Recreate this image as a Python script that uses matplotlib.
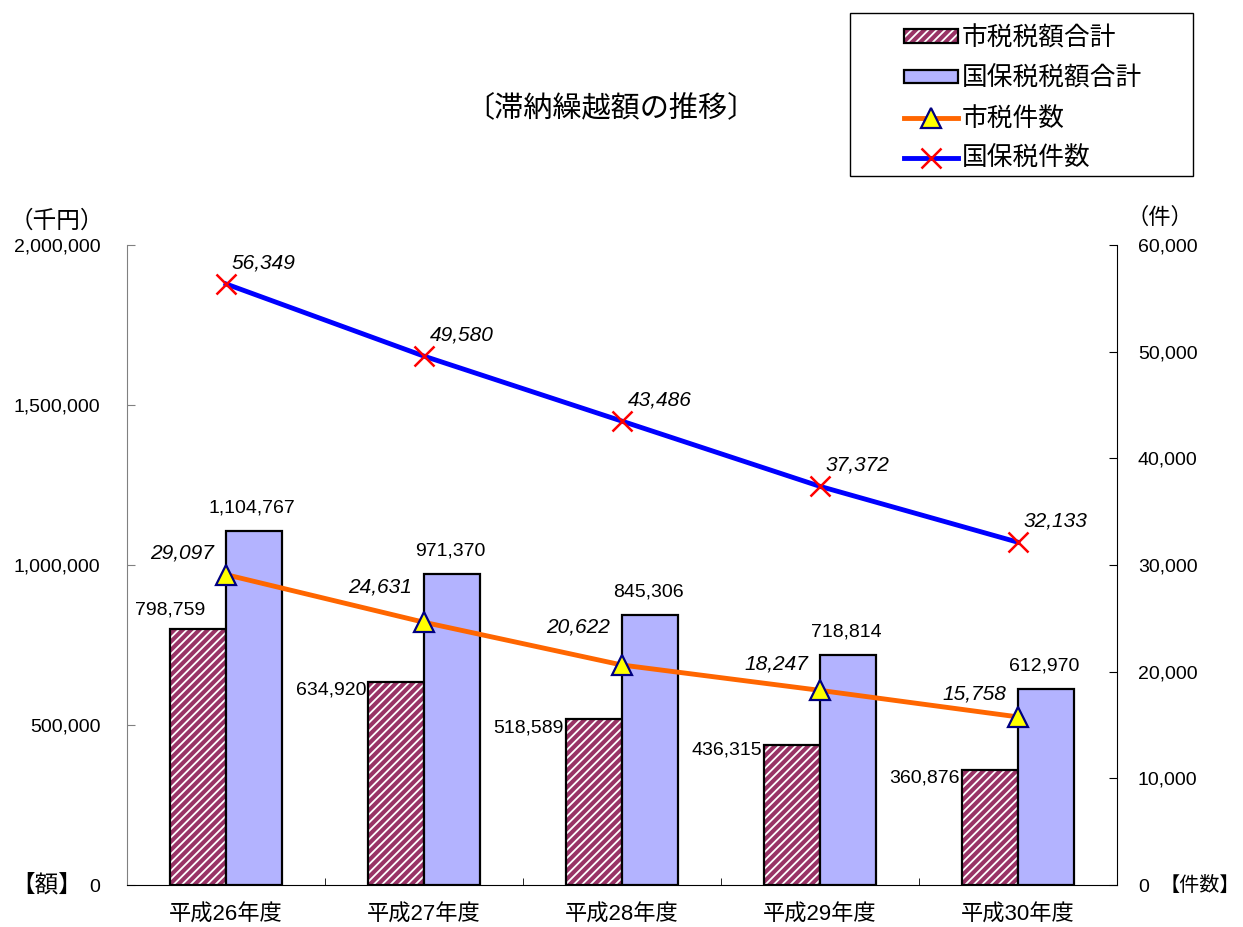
import matplotlib
matplotlib.use('Agg')
import matplotlib.pyplot as plt
from matplotlib.patches import Patch, Rectangle
from matplotlib.lines import Line2D
from matplotlib.legend_handler import HandlerTuple
import numpy as np

plt.rcParams['font.family'] = ['Liberation Sans', 'Noto Sans CJK JP']
plt.rcParams['hatch.linewidth'] = 1.3

years = ['平成26年度', '平成27年度', '平成28年度', '平成29年度', '平成30年度']
city_amount = [798759, 634920, 518589, 436315, 360876]
nhi_amount = [1104767, 971370, 845306, 718814, 612970]
city_count = [29097, 24631, 20622, 18247, 15758]
nhi_count = [56349, 49580, 43486, 37372, 32133]

# label offsets in pixels (manual placement as in the source sheet)
city_amt_off = [(0, 19, 'center'), (-1, -8, 'right'), (-2, -9, 'right'), (-2, -5, 'right'), (-2, -8, 'right')]
city_cnt_dy = [22, 35, 38, 26, 23]

maroon = '#993366'
lilac = '#b3b3ff'
orange = '#ff6600'
blue = '#0000ff'
hatch = '////'

fig = plt.figure(figsize=(12.43, 9.27), dpi=100)
ax = fig.add_axes([127 / 1243, 1 - 885 / 927, 990 / 1243, 640 / 927])
ax2 = ax.twinx()

x = np.arange(len(years))
w = 0.283

# hatched bars: white stripes on maroon, then black outline
ax.bar(x - w / 2, city_amount, w, facecolor=maroon, edgecolor='white', hatch=hatch, linewidth=0, zorder=2)
ax.bar(x - w / 2, city_amount, w, facecolor='none', edgecolor='black', linewidth=1.6, zorder=3)
ax.bar(x + w / 2, nhi_amount, w, color=lilac, edgecolor='black', linewidth=1.6, zorder=3)

for i, v in enumerate(city_amount):
    dx, dy, ha = city_amt_off[i]
    ax.annotate(f'{v:,}', (x[i] - w, v), xytext=(dx, dy), textcoords='offset pixels',
                ha=ha, va='center', fontsize=14)
for i, v in enumerate(nhi_amount):
    ax.annotate(f'{v:,}', (x[i] + w / 2, v), xytext=(-2, 23), textcoords='offset pixels',
                ha='center', va='center', fontsize=14)

ax2.plot(x, city_count, color=orange, lw=3.5, marker='^', ms=14, mfc='yellow', mec='#000080', mew=1.6, zorder=5)
ax2.plot(x, nhi_count, color=blue, lw=3.5, marker='x', ms=14, mec='red', mew=1.8, zorder=5)

for i, v in enumerate(city_count):
    ax2.annotate(f'{v:,}', (x[i], v), xytext=(-12, city_cnt_dy[i]), textcoords='offset pixels',
                 ha='right', va='center', fontsize=15, style='italic')
for i, v in enumerate(nhi_count):
    ax2.annotate(f'{v:,}', (x[i], v), xytext=(6, 21), textcoords='offset pixels',
                 ha='left', va='center', fontsize=15, style='italic')

ax.set_xlim(-0.5, 4.5)
ax.set_ylim(0, 2000000)
ax2.set_ylim(0, 60000)
ax.set_yticks(np.arange(0, 2000001, 500000))
ax.set_yticklabels([f'{t:,}' for t in range(0, 2000001, 500000)], fontsize=14)
ax2.set_yticks(np.arange(0, 60001, 10000))
ax2.set_yticklabels([f'{t:,}' for t in range(0, 60001, 10000)], fontsize=14)
ax.set_xticks(x)
ax.set_xticklabels(years, fontsize=16)
ax.set_xticks(x[:-1] + 0.5, minor=True)
ax.tick_params(axis='x', which='major', length=0, pad=14)
ax.tick_params(axis='x', which='minor', direction='in', length=5, color='black')
ax.tick_params(axis='y', direction='in', length=6, pad=19, color='#808080')
ax2.tick_params(axis='y', direction='in', length=6, pad=15)

for a in (ax, ax2):
    a.spines['top'].set_visible(False)
ax.spines['left'].set_color('#808080')
ax2.spines['left'].set_visible(False)
ax.spines['right'].set_visible(False)
ax2.spines['right'].set_color('black')
ax2.spines['bottom'].set_visible(False)

fig.text(57 / 1243, 1 - 222 / 927, '（千円）', ha='center', va='center', fontsize=17)
fig.text(1160 / 1243, 1 - 218 / 927, '（件）', ha='center', va='center', fontsize=16)
fig.text(47 / 1243, 1 - 885 / 927, '【額】', ha='center', va='center', fontsize=17)
fig.text(1240 / 1243, 1 - 885 / 927, '【件数】', ha='right', va='center', fontsize=14.5)
fig.text(611 / 1243, 1 - 108 / 927, '〔滞納繰越額の推移〕', ha='center', va='center', fontsize=21)

# legend frame drawn separately (wide side padding)
fig.patches.append(Rectangle((850 / 1243, 1 - 176 / 927), 343 / 1243, 163 / 927,
                             transform=fig.transFigure, facecolor='white', edgecolor='black', linewidth=1.0))
h1 = (Patch(facecolor=maroon, edgecolor='white', hatch=hatch, linewidth=0),
      Patch(facecolor='none', edgecolor='black', linewidth=1.6))
h2 = Patch(facecolor=lilac, edgecolor='black', linewidth=1.6)
h3 = Line2D([], [], color=orange, lw=3.5, marker='^', ms=14, mfc='yellow', mec='#000080', mew=1.6)
h4 = Line2D([], [], color=blue, lw=3.5, marker='x', ms=14, mec='red', mew=1.8)
leg = fig.legend([h1, h2, h3, h4], ['市税税額合計', '国保税税額合計', '市税件数', '国保税件数'],
                 handler_map={tuple: HandlerTuple(ndivide=1)},
                 loc='upper left', bbox_to_anchor=(904 / 1243, 1 - 26 / 927),
                 prop={'size': 18.5}, frameon=False,
                 handlelength=2.1, handleheight=0.45, labelspacing=0.62,
                 borderpad=0, handletextpad=0.15, borderaxespad=0)

fig.savefig('out.png', dpi=100)
